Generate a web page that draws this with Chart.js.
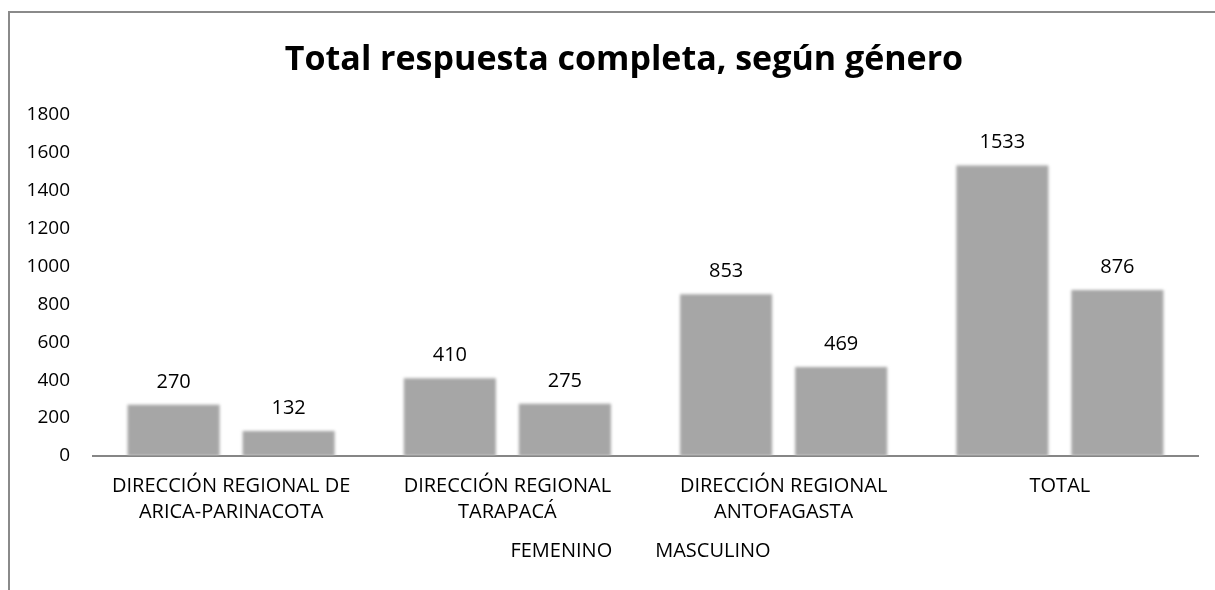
<!DOCTYPE html>
<html>
<head>
<meta charset="utf-8">
<script src="https://cdn.jsdelivr.net/npm/chart.js@4.4.1/dist/chart.umd.min.js"></script>
<style>
  html, body { margin: 0; padding: 0; background: #fff; overflow: hidden; }
  /* frame runs past the right and bottom edge, like the cropped source */
  .frame {
    position: absolute; left: 8px; top: 11px;
    width: 1260px; height: 620px;
    border: 2px solid #8a8a8a; background: #fff;
  }
  .wrap { position: absolute; left: 0; top: 0; width: 1212px; height: 558px; }
</style>
</head>
<body>
<div class="frame">
  <div class="wrap"><canvas id="chart"></canvas></div>
</div>
<script>
// categories (multi-line labels as in the source)
const categories = [
  ['DIRECCIÓN REGIONAL DE', 'ARICA-PARINACOTA'],
  ['DIRECCIÓN REGIONAL', 'TARAPACÁ'],
  ['DIRECCIÓN REGIONAL', 'ANTOFAGASTA'],
  ['TOTAL']
];
const femenino = [270, 410, 853, 1533];
const masculino = [132, 275, 469, 876];
const yTicks = [0, 200, 400, 600, 800, 1000, 1200, 1400, 1600, 1800];

const FONT = "'Open Sans', 'Noto Sans', sans-serif";
const BAR_GREY = '#a6a6a6';

// soft edges on the bars + value labels above them
const barLook = {
  id: 'barLook',
  beforeDatasetsDraw(chart) {
    chart.ctx.save();
    chart.ctx.filter = 'blur(1.4px)';
  },
  afterDatasetsDraw(chart) {
    const ctx = chart.ctx;
    ctx.restore();
    ctx.save();
    ctx.font = '20px ' + FONT;
    ctx.fillStyle = '#000';
    ctx.textAlign = 'center';
    ctx.textBaseline = 'middle';
    chart.data.datasets.forEach((ds, i) => {
      chart.getDatasetMeta(i).data.forEach((bar, j) => {
        ctx.fillText(String(ds.data[j]), bar.x, bar.y - 23);
      });
    });
    ctx.restore();
  }
};

new Chart(document.getElementById('chart'), {
  type: 'bar',
  data: {
    labels: categories,
    datasets: [
      { label: 'FEMENINO', data: femenino, backgroundColor: BAR_GREY, borderWidth: 0 },
      { label: 'MASCULINO', data: masculino, backgroundColor: BAR_GREY, borderWidth: 0 }
    ]
  },
  options: {
    responsive: true,
    maintainAspectRatio: false,
    animation: false,
    categoryPercentage: 0.833,
    barPercentage: 0.8,
    layout: { padding: { left: 16, right: 0, top: 0, bottom: 0 } },
    scales: {
      x: {
        grid: { display: false, drawTicks: false },
        border: { display: true, color: '#868686', width: 2 },
        ticks: {
          color: '#000',
          padding: 17,
          maxRotation: 0,
          autoSkip: false,
          font: { family: FONT, size: 20, lineHeight: 1.3 }
        },
        afterFit: axis => {
          axis.height = 75;
          axis.paddingLeft = 0;
          axis.paddingRight = 0;
        }
      },
      y: {
        min: 0,
        max: 1800,
        afterBuildTicks: axis => { axis.ticks = yTicks.map(v => ({ value: v })); },
        grid: { display: false, drawTicks: false },
        border: { display: false },
        ticks: {
          color: '#000',
          padding: 23,
          font: { family: FONT, size: 19 },
          callback: value => String(value)
        },
        afterFit: axis => { axis.width = 67; }
      },
      // empty strip on the right so the title sits where the source has it
      yRight: {
        position: 'right',
        display: true,
        grid: { display: false, drawTicks: false },
        border: { display: false },
        ticks: { display: false },
        afterFit: axis => { axis.width = 24; }
      }
    },
    plugins: {
      title: {
        display: true,
        text: 'Total respuesta completa, según género',
        color: '#000',
        font: { family: FONT, size: 34, weight: 'bold' },
        padding: { top: 27, bottom: 34 }
      },
      legend: {
        position: 'bottom',
        labels: {
          color: '#000',
          boxWidth: 23,
          boxHeight: 0,
          padding: 10,
          font: { family: FONT, size: 20 }
        }
      },
      tooltip: { enabled: false }
    }
  },
  plugins: [barLook]
});
</script>
</body>
</html>
